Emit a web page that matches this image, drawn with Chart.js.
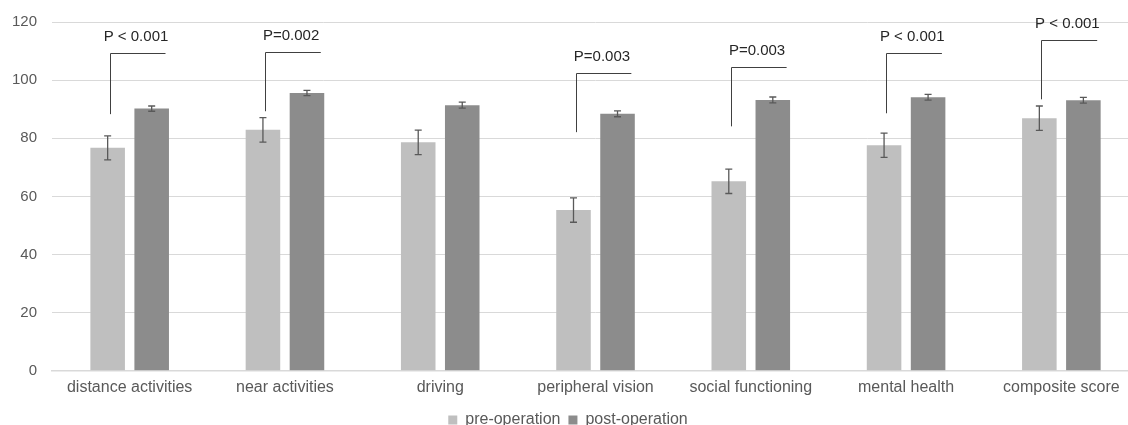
<!DOCTYPE html>
<html>
<head>
<meta charset="utf-8">
<script src="https://cdn.jsdelivr.net/npm/chart.js@4/dist/chart.umd.min.js"></script>
<style>
  html, body { margin: 0; padding: 0; background: #fff; overflow: hidden; }
  #wrap { width: 1163px; height: 440px; margin-left: -3px; margin-top: -2px; }
</style>
</head>
<body>
<div id="wrap"><canvas id="qolChart"></canvas></div>
<script>
// categories and values
const categories = ["distance activities", "near activities", "driving", "peripheral vision",
  "social functioning", "mental health", "composite score"];
const preOperation = [76.7, 82.9, 78.6, 55.3, 65.2, 77.6, 86.9];
const preError = [4.1, 4.2, 4.2, 4.2, 4.2, 4.2, 4.2];
const postOperation = [90.2, 95.6, 91.4, 88.4, 93.2, 94.1, 93.1];
const postError = [0.9, 0.9, 1.0, 1.0, 1.0, 1.0, 1.0];
const yTicks = [0, 20, 40, 60, 80, 100, 120];

// significance brackets (null = no bracket)
const pLabels = ["P < 0.001", "P=0.002", null, "P=0.003", "P=0.003", "P < 0.001", "P < 0.001"];
const bracketLow = [88.3, 89.3, null, 82.1, 84.1, 88.6, 93.4];
const bracketHigh = [109.3, 109.8, null, 102.4, 104.6, 109.2, 113.9];

const fontFamily = "'Liberation Sans', Arial, sans-serif";

//draws error bars and p-value brackets on top of the bars
const annotations = {
  id: "annotations",
  afterDatasetsDraw(chart) {
    const ctx = chart.ctx;
    const y = chart.scales.y;
    const errs = [preError, postError];
    ctx.save();

    // error bars
    ctx.strokeStyle = "#595959";
    ctx.lineWidth = 1.3;
    chart.data.datasets.forEach((ds, d) => {
      chart.getDatasetMeta(d).data.forEach((bar, i) => {
        const top = y.getPixelForValue(ds.data[i] + errs[d][i]);
        const bot = y.getPixelForValue(ds.data[i] - errs[d][i]);
        ctx.beginPath();
        ctx.moveTo(bar.x, top); ctx.lineTo(bar.x, bot);
        ctx.moveTo(bar.x - 3.5, top); ctx.lineTo(bar.x + 3.5, top);
        ctx.moveTo(bar.x - 3.5, bot); ctx.lineTo(bar.x + 3.5, bot);
        ctx.stroke();
      });
    });

    // brackets
    const preBars = chart.getDatasetMeta(0).data;
    const postBars = chart.getDatasetMeta(1).data;
    ctx.strokeStyle = "#404040";
    ctx.lineWidth = 1;
    ctx.fillStyle = "#262626";
    ctx.font = "15px " + fontFamily;
    ctx.textAlign = "center";
    ctx.textBaseline = "middle";
    pLabels.forEach((label, i) => {
      if (!label) return;
      const x1 = Math.round(preBars[i].x + 2) + 0.5;
      const x2 = postBars[i].x + postBars[i].width * 0.4;
      const yLow = y.getPixelForValue(bracketLow[i]);
      const yHigh = Math.round(y.getPixelForValue(bracketHigh[i])) + 0.5;
      ctx.beginPath();
      ctx.moveTo(x1, yLow); ctx.lineTo(x1, yHigh); ctx.lineTo(x2, yHigh);
      ctx.stroke();
      ctx.fillText(label, (x1 + x2) / 2 - 2, yHigh - 17);
    });
    ctx.restore();
  },
};

new Chart("qolChart", {
  type: "bar",
  data: {
    labels: categories,
    datasets: [
      {
        label: "pre-operation",
        data: preOperation,
        backgroundColor: "#bfbfbf",
        categoryPercentage: 0.567,
        barPercentage: 0.785,
      },
      {
        label: "post-operation",
        data: postOperation,
        backgroundColor: "#8c8c8c",
        categoryPercentage: 0.567,
        barPercentage: 0.785,
      },
    ],
  },
  options: {
    responsive: true,
    maintainAspectRatio: false,
    animation: false,
    layout: { padding: { top: 11, right: 21, left: 0, bottom: 0 } },
    scales: {
      x: {
        grid: { display: false, drawTicks: false },
        border: { color: "#d9d9d9", width: 1.5 },
        ticks: { color: "#595959", font: { size: 16, family: fontFamily }, padding: 7, maxRotation: 0 },
      },
      y: {
        min: 0,
        max: 120,
        afterBuildTicks: (axis) => { axis.ticks = yTicks.map((v) => ({ value: v })); },
        grid: { color: "#d9d9d9", lineWidth: 1, drawTicks: false },
        border: { display: false },
        ticks: { color: "#595959", font: { size: 15, family: fontFamily }, padding: 15 },
      },
    },
    plugins: {
      tooltip: { enabled: false },
      legend: {
        position: "bottom",
        labels: {
          color: "#595959",
          font: { size: 16, family: fontFamily },
          boxWidth: 9,
          boxHeight: 9,
          padding: 8,
        },
      },
    },
  },
  plugins: [annotations],
});
</script>
</body>
</html>
